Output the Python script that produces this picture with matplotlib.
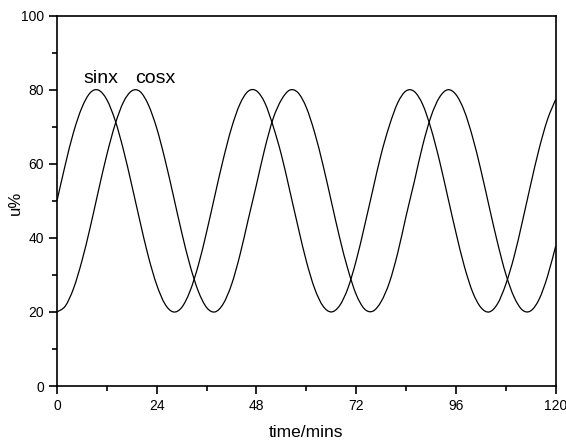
import matplotlib
matplotlib.use("Agg")
import matplotlib.pyplot as plt
from matplotlib.ticker import MultipleLocator
from matplotlib.path import Path
from matplotlib.patches import PathPatch

plt.rcParams['font.family'] = ['Liberation Sans', 'DejaVu Sans']

time_mins = list(range(0, 122, 2))
sinx = [50.0, 59.8, 68.6, 75.2, 79.2, 79.9, 77.3, 71.7, 63.7, 54.2,
        44.3, 34.9, 27.3, 22.1, 20.0, 21.2, 25.6, 32.6, 41.6, 51.5,
        61.2, 69.7, 76.1, 79.6, 79.7, 76.5, 70.2, 62.4, 52.8, 43.0,
        33.7, 26.3, 21.6, 20.0, 21.7, 26.4, 33.9, 43.2, 53.0, 62.6,
        70.4, 76.5, 79.7, 79.5, 76.0, 69.5, 61.0, 51.2, 41.4, 32.4,
        25.4, 21.2, 20.0, 22.2, 27.5, 35.0, 44.5, 54.5, 64.0, 71.9,
        77.4]
cosx = [20.0, 21.6, 26.4, 33.8, 42.9, 52.9, 62.5, 70.7, 76.7, 79.7,
        79.5, 75.9, 69.6, 61.1, 51.4, 41.5, 32.6, 25.6, 21.2, 20.0,
        22.2, 27.4, 35.3, 44.9, 54.4, 64.1, 72.2, 77.3, 79.9, 79.2,
        75.2, 68.4, 59.7, 49.9, 40.1, 31.5, 24.7, 20.8, 20.2, 22.8,
        28.0, 36.0, 45.9, 55.3, 65.0, 72.8, 77.9, 80.0, 78.7, 74.3,
        67.2, 58.3, 48.4, 38.7, 30.2, 24.0, 20.5, 20.3, 23.4, 29.5,
        37.8]
series_labels = ["sinx", "cosx"]
x_ticks = [0, 24, 48, 72, 96, 120]
y_ticks = [0, 20, 40, 60, 80, 100]


def smooth_path(xs, ys):
    """Smooth (Catmull-Rom style Bezier) drawing through the data points."""
    pts = list(zip(xs, ys))
    n = len(pts)
    verts = [pts[0]]
    codes = [Path.MOVETO]
    for i in range(n - 1):
        p0 = pts[i - 1] if i > 0 else pts[i]
        p1 = pts[i]
        p2 = pts[i + 1]
        p3 = pts[i + 2] if i + 2 < n else pts[i + 1]
        c1 = (p1[0] + (p2[0] - p0[0]) / 6, p1[1] + (p2[1] - p0[1]) / 6)
        c2 = (p2[0] - (p3[0] - p1[0]) / 6, p2[1] - (p3[1] - p1[1]) / 6)
        verts += [c1, c2, p2]
        codes += [Path.CURVE4] * 3
    return Path(verts, codes)


fig = plt.figure(figsize=(5.66, 4.40), dpi=100)
ax = fig.add_axes([57/566, 1 - 386/440, (555.7 - 57)/566, (386 - 15.7)/440])

for ys in (sinx, cosx):
    ax.add_patch(PathPatch(smooth_path(time_mins, ys), facecolor='none',
                           edgecolor='black', lw=0.9))

ax.text(6.3, 81.9, series_labels[0], fontsize=14, ha='left', va='baseline')
ax.text(18.8, 81.9, series_labels[1], fontsize=14, ha='left', va='baseline')

ax.set_xlim(0, 120)
ax.set_ylim(0, 100)
ax.set_xticks(x_ticks)
ax.set_yticks(y_ticks)
ax.xaxis.set_minor_locator(MultipleLocator(12))
ax.yaxis.set_minor_locator(MultipleLocator(10))
ax.tick_params(which='major', direction='out', length=6, width=1.2, labelsize=10)
ax.tick_params(which='minor', direction='out', length=3.5, width=1.2)
for s in ax.spines.values():
    s.set_linewidth(1.2)

ax.set_xlabel("time/mins", fontsize=12.5, va='baseline')
ax.xaxis.set_label_coords(0.5, -0.138)
ax.set_ylabel("u%", fontsize=12, va='center')
ax.yaxis.set_label_coords(-0.084, 0.494)

fig.savefig("out.png", dpi=100)
